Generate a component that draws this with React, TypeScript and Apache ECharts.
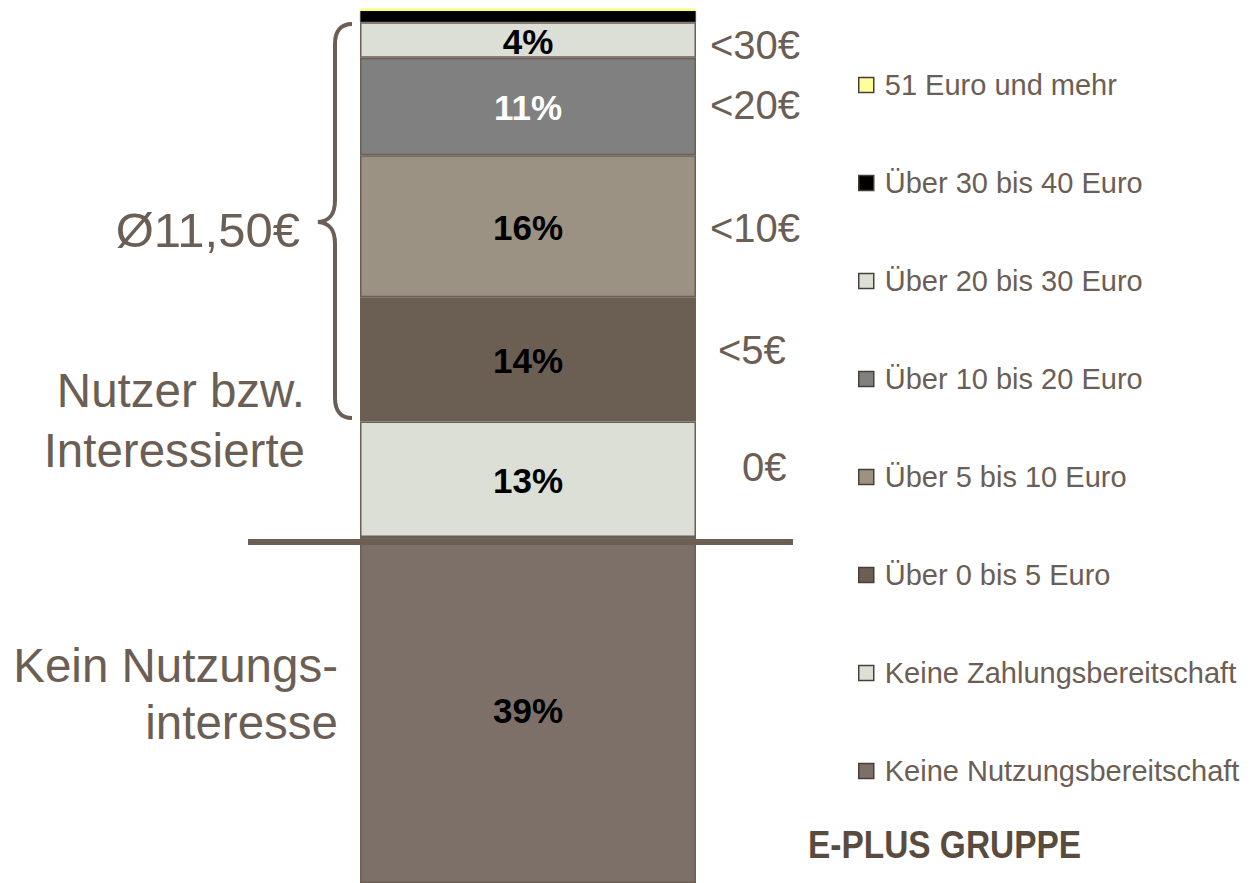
import React, { useEffect, useRef } from "react";
import * as echarts from "echarts";

// Segments from bottom to top of the stacked bar
const seriesNames = [
  "Keine Nutzungsbereitschaft",
  "Keine Zahlungsbereitschaft",
  "Über 0 bis 5 Euro",
  "Über 5 bis 10 Euro",
  "Über 10 bis 20 Euro",
  "Über 20 bis 30 Euro",
  "Über 30 bis 40 Euro",
  "51 Euro und mehr",
];
const seriesValues = [39, 13, 14, 16, 11, 4, 1.3, 0.3];
const showLabel = [true, true, true, true, true, true, false, false];
const seriesColors = ["#7d7068", "#dcdfd6", "#6b5e53", "#9b9283", "#808080", "#dcdfd6", "#000000", "#ffff99"];
const labelColors = ["#000", "#000", "#000", "#000", "#fff", "#000", "#000", "#000"];
const borderWidths = [1.5, 1.5, 1.5, 1.5, 1.5, 1.5, 0.5, 0];
const categories = ["Zahlungsbereitschaft"];

// Price annotations on the right of the bar
const priceLabels = ["<30€", "<20€", "<10€", "<5€", "0€"];
const priceX = [710, 710, 710, 718, 742];
const priceY = [45, 105, 228, 350, 467];

// Annotations on the left of the bar
const leftLabels = ["Ø11,50€", "Nutzer bzw.", "Interessierte", "Kein Nutzungs-", "interesse"];
const leftX = [300, 305, 305, 338, 338];
const leftY = [230, 390, 450, 665, 722];
const leftSizes = [49, 47.5, 47.5, 47.5, 47.5];

const TEXT = "#6b5e55";
const FONT = "'Liberation Sans', Arial, Helvetica, sans-serif";

const braceD =
  "M352,24 C341,24 335,31 335,44 L335,200 C335,214 330,221 318,222 C330,223 335,230 335,244 L335,398 C335,411 341,418 352,418";

let registered = false;

export default function App() {
  const ref = useRef<HTMLDivElement>(null);

  useEffect(() => {
    if (!ref.current) return;
    if (!registered) {
      echarts.graphic.registerShape("brace", echarts.graphic.extendPath(braceD, {}));
      registered = true;
    }
    const chart = echarts.init(ref.current, null, { renderer: "svg" });
    const total = seriesValues.reduce((a, b) => a + b, 0);

    const series = seriesNames.map((name, i) => ({
      name,
      type: "bar",
      stack: "total",
      barWidth: "100%",
      data: [seriesValues[i]],
      itemStyle: { color: seriesColors[i], borderColor: "#6b5e55", borderWidth: borderWidths[i] },
      label: {
        show: showLabel[i],
        position: "inside",
        formatter: "{c}%",
        color: labelColors[i],
        fontSize: 35,
        fontWeight: "bold",
        fontFamily: FONT,
        offset: i === 5 ? [0, 2] : [0, 1],
      },
    }));

    const graphics: any[] = [];
    priceLabels.forEach((t, i) => {
      graphics.push({
        type: "text",
        x: priceX[i],
        y: priceY[i],
        style: { text: t, fill: TEXT, fontSize: 40, fontFamily: FONT, textAlign: "left", textVerticalAlign: "middle" },
      });
    });
    leftLabels.forEach((t, i) => {
      graphics.push({
        type: "text",
        x: leftX[i],
        y: leftY[i],
        style: { text: t, fill: TEXT, fontSize: leftSizes[i], fontFamily: FONT, textAlign: "right", textVerticalAlign: "middle" },
      });
    });
    graphics.push({
      type: "brace",
      x: 0,
      y: 0,
      style: { stroke: TEXT, lineWidth: 4, fill: "none" },
    });
    graphics.push({
      type: "line",
      z: 100,
      shape: { x1: 248, y1: 542, x2: 793, y2: 542 },
      style: { stroke: "#6b5e53", lineWidth: 6 },
    });
    graphics.push({
      type: "text",
      x: 808,
      y: 845,
      scaleX: 0.88,
      style: {
        text: "E-PLUS GRUPPE",
        fill: "#5a4b3f",
        fontSize: 38,
        fontWeight: "bold",
        fontFamily: FONT,
        textAlign: "left",
        textVerticalAlign: "middle",
      },
    });

    chart.setOption({
      animation: false,
      grid: { left: 360, right: 560, top: 8, bottom: -10 },
      xAxis: { type: "category", data: categories, show: false },
      yAxis: { type: "value", min: 0, max: total, show: false },
      legend: {
        orient: "vertical",
        left: 853,
        top: 65,
        itemWidth: 15,
        itemHeight: 15,
        itemGap: 68,
        icon: "rect",
        data: [...seriesNames].reverse(),
        itemStyle: { borderColor: "#4a3f38", borderWidth: 1.5 },
        textStyle: { color: TEXT, fontSize: 29, fontFamily: FONT, lineHeight: 30, padding: [0, 0, 0, 6] },
      },
      series,
      graphic: graphics,
    });
    return () => chart.dispose();
  }, []);

  return (
    <div
      ref={ref}
      style={{ position: "fixed", left: 0, top: 0, width: 1256, height: 883, background: "#fff" }}
    />
  );
}
